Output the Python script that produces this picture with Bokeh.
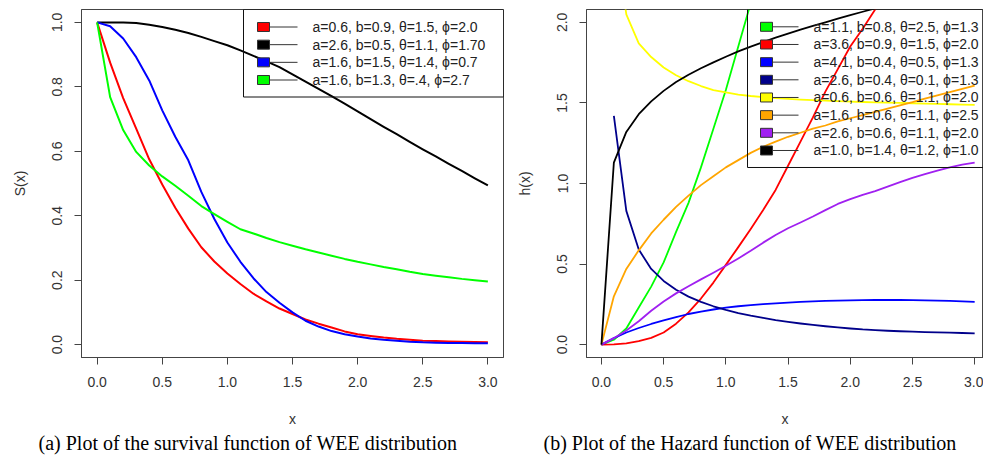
import math
from bokeh.plotting import figure
from bokeh.layouts import row
from bokeh.models import FixedTicker, Title
from bokeh.core.properties import value
from bokeh.embed import file_html
from bokeh.resources import INLINE

# ---------------- data: (a) survival functions ----------------
X = [0.0, 0.1, 0.2, 0.3, 0.4, 0.5, 0.6, 0.7, 0.8, 0.9, 1.0,
     1.1, 1.2, 1.3, 1.4, 1.5, 1.6, 1.7, 1.8, 1.9, 2.0,
     2.1, 2.2, 2.3, 2.4, 2.5, 2.6, 2.7, 2.8, 2.9, 3.0]

S_red = [1.0, 0.875, 0.765, 0.67, 0.575, 0.497, 0.425, 0.36, 0.302, 0.258, 0.221,
         0.188, 0.158, 0.134, 0.112, 0.095, 0.078, 0.065, 0.053, 0.041, 0.032,
         0.027, 0.022, 0.018, 0.015, 0.012, 0.011, 0.010, 0.009, 0.008, 0.007]
S_black = [1.0, 1.0, 1.0, 0.998, 0.993, 0.986, 0.977, 0.967, 0.955, 0.942, 0.929,
           0.913, 0.896, 0.879, 0.861, 0.839, 0.816, 0.794, 0.771, 0.748, 0.724,
           0.70, 0.676, 0.653, 0.629, 0.606, 0.584, 0.561, 0.539, 0.516, 0.494]
S_blue = [1.0, 0.988, 0.95, 0.892, 0.82, 0.727, 0.645, 0.572, 0.474, 0.39, 0.317,
          0.257, 0.206, 0.163, 0.13, 0.10, 0.074, 0.056, 0.042, 0.032, 0.025,
          0.019, 0.015, 0.012, 0.009, 0.007, 0.006, 0.005, 0.005, 0.004, 0.004]
S_green = [1.0, 0.768, 0.666, 0.598, 0.556, 0.522, 0.493, 0.462, 0.43, 0.405, 0.381,
           0.358, 0.345, 0.331, 0.318, 0.307, 0.296, 0.286, 0.276, 0.266, 0.257,
           0.249, 0.241, 0.234, 0.226, 0.219, 0.214, 0.209, 0.204, 0.2, 0.196]

left_series = [S_red, S_black, S_blue, S_green]
left_colors = ["#FF0000", "#000000", "#0000FF", "#00FF00"]
left_labels = ["a=0.6, b=0.9, θ=1.5, ϕ=2.0",
               "a=2.6, b=0.5, θ=1.1, ϕ=1.70",
               "a=1.6, b=1.5, θ=1.4, ϕ=0.7",
               "a=1.6, b=1.3, θ=.4, ϕ=2.7"]

# ---------------- data: (b) hazard functions ----------------
X_green = [0.0, 0.1, 0.2, 0.3, 0.4, 0.5, 0.6, 0.7, 0.8, 0.9, 1.0, 1.1, 1.2, 1.3]
H_green = [0.0, 0.03, 0.1, 0.23, 0.36, 0.51, 0.70, 0.88, 1.10, 1.34, 1.58, 1.85, 2.12, 2.42]

X_red = [0.0, 0.1, 0.2, 0.3, 0.4, 0.5, 0.6, 0.7, 0.8, 0.9, 1.0, 1.1,
         1.2, 1.3, 1.4, 1.5, 1.6, 1.7, 1.8, 1.9, 2.0, 2.1, 2.2, 2.3]
H_red = [0.0, 0.001, 0.008, 0.022, 0.042, 0.075, 0.13, 0.2, 0.286, 0.385, 0.495, 0.605,
         0.718, 0.835, 0.96, 1.11, 1.26, 1.41, 1.57, 1.71, 1.85, 1.96, 2.08, 2.2]

H_blue = [0.0, 0.04, 0.075, 0.103, 0.128, 0.15, 0.17, 0.19, 0.205, 0.218, 0.229,
          0.238, 0.245, 0.251, 0.256, 0.261, 0.265, 0.268, 0.271, 0.273, 0.275,
          0.276, 0.277, 0.277, 0.277, 0.276, 0.275, 0.273, 0.271, 0.268, 0.265]

X_from01 = [0.1, 0.2, 0.3, 0.4, 0.5, 0.6, 0.7, 0.8, 0.9, 1.0,
            1.1, 1.2, 1.3, 1.4, 1.5, 1.6, 1.7, 1.8, 1.9, 2.0,
            2.1, 2.2, 2.3, 2.4, 2.5, 2.6, 2.7, 2.8, 2.9, 3.0]
H_navy = [1.42, 0.83, 0.59, 0.47, 0.395, 0.34, 0.298, 0.265, 0.238, 0.215,
          0.196, 0.18, 0.166, 0.152, 0.141, 0.131, 0.122, 0.114, 0.107, 0.1,
          0.094, 0.09, 0.086, 0.083, 0.08, 0.078, 0.076, 0.074, 0.072, 0.07]
H_yellow = [2.6, 2.05, 1.87, 1.785, 1.72, 1.672, 1.635, 1.605, 1.58, 1.565,
            1.552, 1.543, 1.536, 1.53, 1.525, 1.521, 1.517, 1.514, 1.511, 1.508,
            1.506, 1.504, 1.502, 1.5, 1.498, 1.496, 1.494, 1.492, 1.49, 1.488]

H_orange = [0.0, 0.3, 0.47, 0.585, 0.69, 0.775, 0.855, 0.925, 0.99, 1.045, 1.10,
            1.145, 1.19, 1.228, 1.26, 1.29, 1.315, 1.34, 1.36, 1.385, 1.405,
            1.425, 1.445, 1.465, 1.485, 1.505, 1.527, 1.547, 1.567, 1.588, 1.608]
H_purple = [0.0, 0.04, 0.088, 0.145, 0.21, 0.268, 0.318, 0.362, 0.405, 0.446, 0.489,
            0.535, 0.582, 0.633, 0.68, 0.722, 0.758, 0.795, 0.835, 0.873, 0.903,
            0.93, 0.953, 0.98, 1.008, 1.035, 1.058, 1.08, 1.1, 1.117, 1.13]

X_black = [0.0, 0.1, 0.2, 0.3, 0.4, 0.5, 0.6, 0.7, 0.8, 0.9, 1.0, 1.1,
           1.2, 1.3, 1.4, 1.5, 1.6, 1.7, 1.8, 1.9, 2.0, 2.1, 2.2, 2.3]
H_black = [0.0, 1.13, 1.32, 1.43, 1.51, 1.575, 1.63, 1.675, 1.715, 1.752, 1.787, 1.82,
           1.85, 1.878, 1.905, 1.93, 1.955, 1.978, 2.0, 2.023, 2.045, 2.066, 2.087, 2.108]

right_series = [(X_green, H_green), (X_red, H_red), (X, H_blue), (X_from01, H_navy),
                (X_from01, H_yellow), (X, H_orange), (X, H_purple), (X_black, H_black)]
right_colors = ["#00FF00", "#FF0000", "#0000FF", "#00008B",
                "#FFFF00", "#FFA500", "#A020F0", "#000000"]
right_labels = ["a=1.1, b=0.8, θ=2.5, ϕ=1.3",
                "a=3.6, b=0.9, θ=1.5, ϕ=2.0",
                "a=4.1, b=0.4, θ=0.5, ϕ=1.3",
                "a=2.6, b=0.4, θ=0.1, ϕ=1.3",
                "a=0.6, b=0.6, θ=1.1, ϕ=2.0",
                "a=1.6, b=0.6, θ=1.1, ϕ=2.5",
                "a=2.6, b=0.6, θ=1.1, ϕ=2.0",
                "a=1.0, b=1.4, θ=1.2, ϕ=1.0"]

# ticks
x_ticks = [0.0, 0.5, 1.0, 1.5, 2.0, 2.5, 3.0]
x_tick_labels = ["0.0", "0.5", "1.0", "1.5", "2.0", "2.5", "3.0"]
yl_ticks = [0.0, 0.2, 0.4, 0.6, 0.8, 1.0]
yl_tick_labels = ["0.0", "0.2", "0.4", "0.6", "0.8", "1.0"]
yr_ticks = [0.0, 0.5, 1.0, 1.5, 2.0]
yr_tick_labels = ["0.0", "0.5", "1.0", "1.5", "2.0"]

caption_a = "(a) Plot of the survival function of WEE distribution"
caption_b = "(b) Plot of the Hazard function of WEE distribution"

# ---------------- layout ----------------
SANS = "Liberation Sans"
SERIF = "Liberation Serif"
H = 459
FR_TOP, FR_BOTTOM = 9, 357
AX_COL = "#444444"
TXT_COL = "#333333"


def make_fig(width, xr, yr, bl, br, xt, xtl, yt, ytl, ylabel, caption, cap_offset):
    p = figure(width=width, height=H, x_range=xr, y_range=yr,
               output_backend="svg", toolbar_location=None,
               min_border_left=bl, min_border_right=br,
               min_border_top=FR_TOP, min_border_bottom=H - FR_BOTTOM)
    p.grid.visible = False
    p.outline_line_color = AX_COL
    p.outline_line_width = 1
    p.background_fill_color = "white"
    p.border_fill_color = "white"
    for ax in (p.xaxis[0], p.yaxis[0]):
        ax.axis_line_color = AX_COL
        ax.major_tick_line_color = AX_COL
        ax.minor_tick_line_color = None
        ax.major_tick_in = 0
        ax.major_tick_out = 7
        ax.major_label_text_font = SANS
        ax.major_label_text_font_size = "14px"
        ax.major_label_text_color = TXT_COL
        ax.axis_label_text_font = SANS
        ax.axis_label_text_font_style = "normal"
        ax.axis_label_text_font_size = "14px"
        ax.axis_label_text_color = TXT_COL
    p.xaxis[0].ticker = FixedTicker(ticks=xt)
    p.xaxis[0].major_label_overrides = dict(zip(xt, xtl))
    p.xaxis[0].major_label_standoff = 12
    p.xaxis[0].axis_label = "x"
    p.xaxis[0].axis_label_standoff = 21
    p.yaxis[0].ticker = FixedTicker(ticks=yt)
    p.yaxis[0].major_label_orientation = "parallel"
    p.yaxis[0].major_label_overrides = dict(zip(yt, ytl))
    p.yaxis[0].major_label_standoff = 12
    p.yaxis[0].axis_label = ylabel
    p.yaxis[0].axis_label_standoff = 22
    p.add_layout(Title(text=caption, align="left", offset=cap_offset,
                       text_font=SERIF, text_font_size="20px",
                       text_font_style="normal", text_color="#000000",
                       text_line_height=0.9, standoff=0), "below")
    return p


def converter(fl, fr, xr, yr):
    def fx(px):
        return xr[0] + (px - fl) * (xr[1] - xr[0]) / (fr - fl)

    def fy(py):
        return yr[0] + (FR_BOTTOM - py) * (yr[1] - yr[0]) / (FR_BOTTOM - FR_TOP)
    return fx, fy


def draw_legend(p, fx, fy, labels, colors, box_l, box_r, sq_l, sq_r, ln_r, txt_l, row0, dy):
    n = len(labels)
    box_b = row0 + (n - 1) * dy + 17
    p.quad(left=[fx(box_l)], right=[fx(box_r)], top=[fy(FR_TOP)], bottom=[fy(box_b)],
           fill_color=None, line_color="#111111", line_width=1)
    ys = [fy(row0 + i * dy) for i in range(n)]
    xc = fx((sq_l + sq_r) / 2)
    p.segment(x0=[xc] * n, y0=ys, x1=[fx(ln_r)] * n, y1=ys,
              line_color="#333333", line_width=1)
    p.rect(x=[xc] * n, y=ys, width=sq_r - sq_l, height=9,
           width_units="screen", height_units="screen",
           fill_color=colors, line_color="#333333", line_width=1)
    p.text(x=[fx(txt_l)] * n, y=ys, text=labels,
           text_font=value(SANS), text_font_size="14px",
           text_baseline="middle", text_align="left", text_color="#222222")


# ---------- left figure ----------
L_XR = (-0.12, 3.12)
L_YR = (-0.04, 1.04)
L_FL, L_FR, L_W = 81, 503, 508
p1 = make_fig(L_W, L_XR, L_YR, L_FL, L_W - L_FR, x_ticks, x_tick_labels,
              yl_ticks, yl_tick_labels, "S(x)", caption_a, 38 - L_FL)
for s, c in zip(left_series, left_colors):
    p1.line(X, s, line_color=c, line_width=2, line_join="round")
fx1, fy1 = converter(L_FL, L_FR, L_XR, L_YR)
draw_legend(p1, fx1, fy1, left_labels, left_colors, 243, 503, 257, 269, 297, 312, 26.5, 17.67)

# ---------- right figure ----------
R_XR = (-0.12, 3.071)
R_YR = (-0.08, 2.08)
R_FL, R_FR, R_W = 586, 983, 475
p2 = make_fig(R_W, R_XR, R_YR, R_FL - L_W, 0, x_ticks, x_tick_labels,
              yr_ticks, yr_tick_labels, "h(x)", caption_b, 543 - R_FL)
for (xs, hs), c in zip(right_series, right_colors):
    p2.line(xs, hs, line_color=c, line_width=1.8, line_join="round")
fx2, fy2 = converter(R_FL, R_FR, R_XR, R_YR)
draw_legend(p2, fx2, fy2, right_labels, right_colors, 747, 1000, 760, 772, 798, 813, 26.3, 17.67)

layout = row(p1, p2)
open("out.html", "w").write(file_html(layout, INLINE))
